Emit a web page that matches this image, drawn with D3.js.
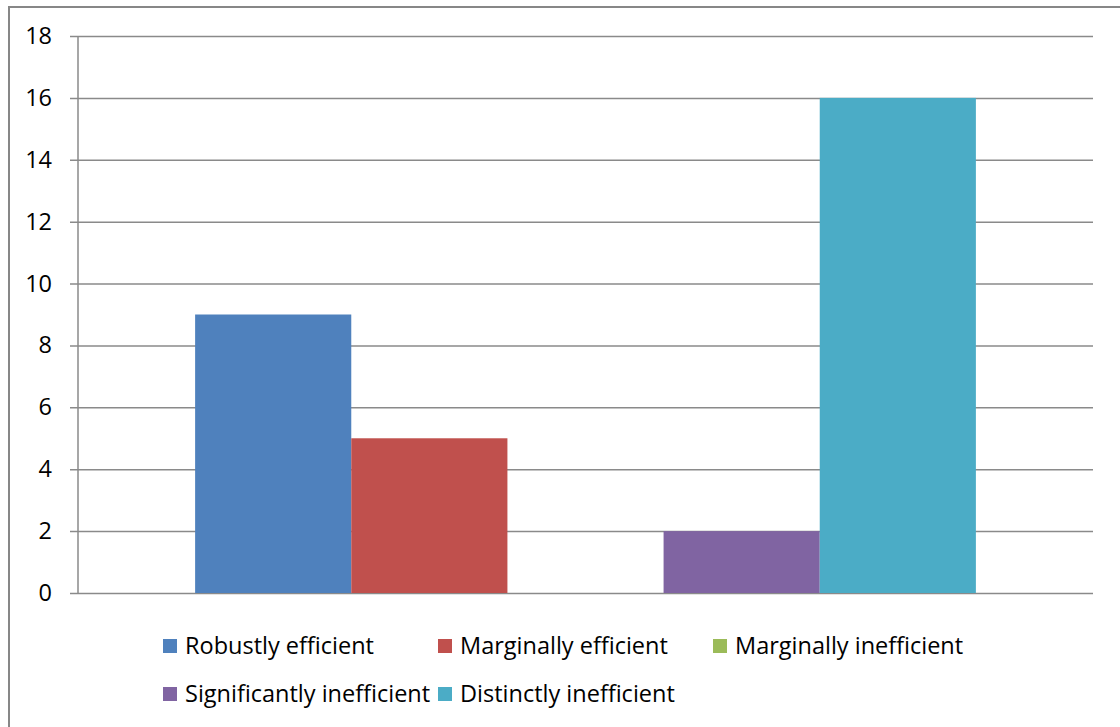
<!DOCTYPE html>
<html>
<head>
<meta charset="utf-8">
<script src="https://cdn.jsdelivr.net/npm/d3@7"></script>
<style>
  html, body { margin: 0; padding: 0; background: #fff; }
  svg { display: block; font-family: "Open Sans", sans-serif; }
</style>
</head>
<body>
<svg id="chart" width="1120" height="727"></svg>
<script>
// Series shown as one cluster of five bars
const seriesNames = [
  "Robustly efficient",
  "Marginally efficient",
  "Marginally inefficient",
  "Significantly inefficient",
  "Distinctly inefficient"
];
const seriesValues = [9, 5, 0, 2, 16];
const seriesColors = ["#4F81BD", "#C0504D", "#9BBB59", "#8064A2", "#4BACC6"];
const yTicks = [0, 2, 4, 6, 8, 10, 12, 14, 16, 18];

const svg = d3.select("#chart");
const plot = { left: 78, right: 1093, top: 36, bottom: 593 };

// Outer chart frame (extends past the page edge on right and bottom)
svg.append("rect")
  .attr("x", 9).attr("y", 7)
  .attr("width", 1300).attr("height", 900)
  .attr("fill", "none")
  .attr("stroke", "#878787")
  .attr("stroke-width", 2);

const y = d3.scaleLinear().domain([0, 18]).range([plot.bottom, plot.top]);
const x = d3.scaleBand()
  .domain(seriesNames)
  .range([plot.left, plot.right])
  .paddingInner(0)
  .paddingOuter(0.75);

// Horizontal gridlines with small tick marks to the left of the axis
const yAxis = d3.axisLeft(y)
  .tickValues(yTicks)
  .tickSize(-(plot.right - plot.left))
  .tickSizeOuter(0)
  .tickPadding(26)
  .tickFormat(d3.format("d"));

const gy = svg.append("g")
  .attr("transform", `translate(${plot.left},0)`)
  .call(yAxis);
gy.select(".domain").remove();
gy.selectAll(".tick line")
  .attr("x1", -8)
  .attr("stroke", "#8a8a8a")
  .attr("stroke-width", 1.5);
gy.selectAll(".tick text")
  .attr("fill", "#000")
  .style("font-size", "23.5px")
  .style("font-family", "'Open Sans', sans-serif");

// Vertical axis line
svg.append("line")
  .attr("x1", plot.left).attr("x2", plot.left)
  .attr("y1", plot.top).attr("y2", plot.bottom)
  .attr("stroke", "#8a8a8a")
  .attr("stroke-width", 1.5);

// Bars
svg.append("g")
  .selectAll("rect")
  .data(seriesNames)
  .join("rect")
  .attr("x", d => x(d))
  .attr("width", x.bandwidth())
  .attr("y", (d, i) => y(seriesValues[i]))
  .attr("height", (d, i) => y(0) - y(seriesValues[i]))
  .attr("fill", (d, i) => seriesColors[i]);

// Legend: three columns, wrapping onto a second row
const legendCols = 3, colStep = 275, rowStep = 48;
const legendX = 163, legendY = 639;
const legend = svg.append("g")
  .selectAll("g")
  .data(seriesNames)
  .join("g")
  .attr("transform", (d, i) =>
    `translate(${legendX + (i % legendCols) * colStep},${legendY + Math.floor(i / legendCols) * rowStep})`);
legend.append("rect")
  .attr("width", 14).attr("height", 14)
  .attr("fill", (d, i) => seriesColors[i]);
legend.append("text")
  .attr("x", 22)
  .attr("y", 7)
  .attr("dy", "0.35em")
  .attr("fill", "#000")
  .style("font-size", "23.5px")
  .text(d => d);
</script>
</body>
</html>
